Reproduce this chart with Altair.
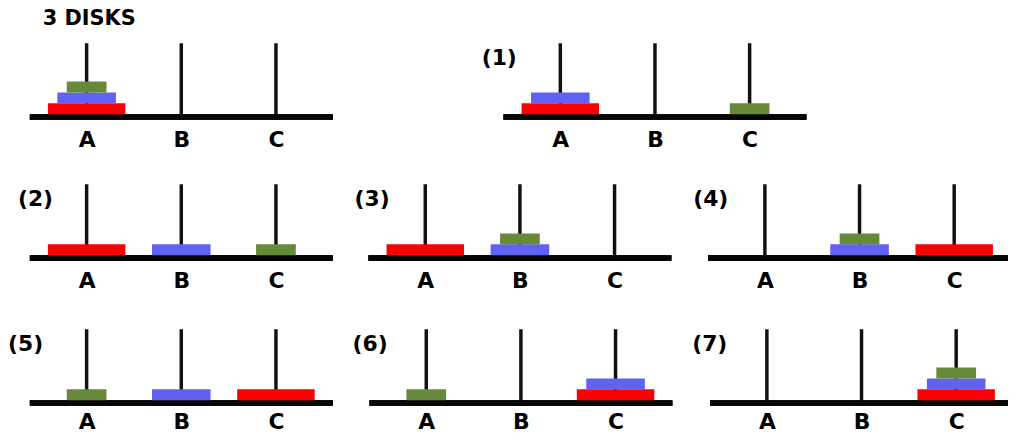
import altair as alt
import pandas as pd

# ---- data ----
PANEL_LABELS = ["3 DISKS", "(1)", "(2)", "(3)", "(4)", "(5)", "(6)", "(7)"]
PEGS = ["A", "B", "C"]
DISK_IDS = [1, 2, 3]          # 1 = smallest, 3 = largest
# disks on each peg, listed bottom -> top, one entry per panel
STACK_A = [[3, 2, 1], [3, 2], [3], [3], [], [1], [1], []]
STACK_B = [[], [], [2], [2, 1], [2, 1], [2], [], []]
STACK_C = [[], [1], [1], [], [3], [3], [3, 2], [3, 2, 1]]

# ---- styles / layout ----
DISK_COLORS = ["#66893a", "#6262f2", "#fb0000"]
DISK_WIDTHS = [40, 58, 78]
W, H = 305, 77                   # ground width, pole top -> ground bottom
POLE_TOP = 6.5                   # in disk heights
GROUND = -0.5
LEFT = [22, 22, 22, 14, 15, 22, 17, 18]   # room left of the ground line (for the labels)
CUT = [0, 0, 0, 0, 3, 0, 0, 5]            # ground cut by the right page edge
LABEL_PAD = [10, 10, 10, 10, 10, 6, 6, 6]
TITLE_DX = [35, 0, 10, 0, 0, 0, 0, 0]
FONT = "DejaVu Sans"


def panel(i):
    rows = []
    for peg, stacks in zip(PEGS, [STACK_A, STACK_B, STACK_C]):
        for lvl, d in enumerate(stacks[i]):
            rows.append({"peg": peg, "disk": d, "lo": lvl, "hi": lvl + 1})
    disks = pd.DataFrame(rows, columns=["peg", "disk", "lo", "hi"])
    frame = pd.DataFrame({"peg": PEGS, "base": [0] * 3, "top": [POLE_TOP] * 3,
                          "ground": [GROUND] * 3})

    L = LEFT[i]
    pw = L + W - CUT[i]
    ax = alt.Axis(domain=False, ticks=False, grid=False, title=None,
                  labelAngle=0, labelFont=FONT, labelFontSize=22,
                  labelFontWeight="bold", labelColor="#000000", labelPadding=LABEL_PAD[i])
    xscale = alt.Scale(type="point", domain=PEGS, padding=0.6, range=[L, L + W])
    yscale = alt.Scale(domain=[GROUND, POLE_TOP], nice=False, zero=False)

    poles = alt.Chart(frame).mark_rule(color="#111111", strokeWidth=3.5).encode(
        x=alt.X("peg:N", scale=xscale, axis=ax),
        y=alt.Y("base:Q", scale=yscale, axis=None),
        y2="top:Q",
    )
    ground = alt.Chart(frame).mark_rect(color="#050505").encode(
        x=alt.value(L), x2=alt.value(pw),
        y=alt.Y("ground:Q", scale=yscale, axis=None),
        y2="base:Q",
    )
    bars = alt.Chart(disks).mark_bar(strokeWidth=0).encode(
        x=alt.X("peg:N", scale=xscale, axis=ax),
        y=alt.Y("lo:Q", scale=yscale, axis=None),
        y2="hi:Q",
        size=alt.Size("disk:Q", scale=alt.Scale(domain=[1, 3], range=[DISK_WIDTHS[0], DISK_WIDTHS[2]]),
                      legend=None),
        color=alt.Color("disk:N", scale=alt.Scale(domain=DISK_IDS, range=DISK_COLORS), legend=None),
    )
    if i == 0:
        title = alt.TitleParams(PANEL_LABELS[i], anchor="start", frame="group", orient="top",
                                font=FONT, fontSize=21, fontWeight="bold", color="#000000",
                                baseline="alphabetic", offset=0, dx=TITLE_DX[i], dy=4)
    else:
        title = alt.TitleParams(PANEL_LABELS[i], anchor="start", frame="group", orient="top",
                                font=FONT, fontSize=22, fontWeight="bold", color="#000000",
                                baseline="alphabetic", offset=0, dx=TITLE_DX[i], dy=46)
    return alt.layer(poles, ground, bars).properties(width=pw, height=H, title=title)


row1 = alt.hconcat(panel(0), panel(1), spacing=150, bounds="flush")
row2 = alt.hconcat(panel(2), panel(3), panel(4), spacing=22, bounds="flush")
row3 = alt.hconcat(panel(5), panel(6), panel(7), spacing=20, bounds="flush")
lower = alt.vconcat(row2, row3, spacing=36)

chart = alt.vconcat(row1, lower, spacing=32).properties(
    padding={"top": -2, "left": 0, "right": 0, "bottom": 0}, background="#ffffff"
).configure_view(stroke=None)

chart.save("out.html", embed_options={"renderer": "svg", "actions": False})
